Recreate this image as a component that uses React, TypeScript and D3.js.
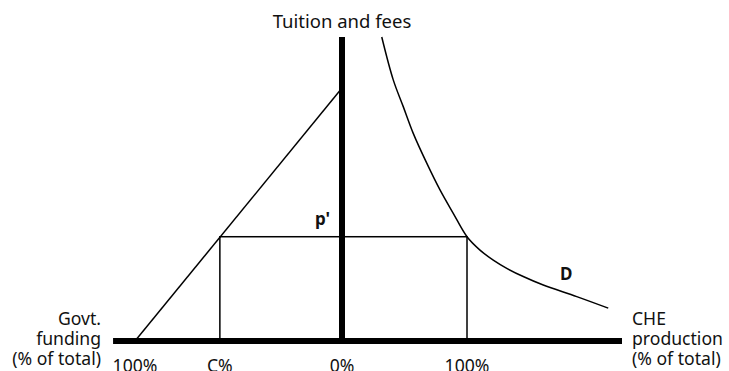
import React from 'react';
import * as d3 from 'd3';

// horizontal: left side is govt funding share, right side is CHE production share
const govtTicks = [
  { label: '100%', value: 100 },
  { label: 'C%', value: 59 },
];
const prodTicks = [
  { label: '0%', value: 0 },
  { label: '100%', value: 100 },
];

const cShare = 59;
const pPrime = 34.3;
const supplyTop = 83.2; // tuition where govt funding = 0

// demand curve D: [production %, tuition]
const demandProd = [31.8, 41.0, 49.0, 57.0, 67.8, 78.4, 89.0, 100, 110.4, 121.0, 131.8, 145.0, 161.0, 187.8, 213.0];
const demandTuition = [100, 85.9, 77.1, 68.3, 58.5, 49.7, 42.0, 34.3, 29.9, 26.6, 23.9, 21.2, 18.4, 14.6, 10.8];

const leftLabel = ['Govt.', 'funding', '(% of total)'];
const rightLabel = ['CHE', 'production', '(% of total)'];

const W = 729;
const H = 371;
const FONT = "'Noto Sans', sans-serif";

export default function App() {
  const originX = 342;
  const xProd = d3.scaleLinear().domain([0, 100]).range([originX, 467]);
  const xGovt = d3.scaleLinear().domain([0, 100]).range([originX, 135]);
  const y = d3.scaleLinear().domain([0, 100]).range([341, 37]);

  const demand = demandProd.map((p, i) => [p, demandTuition[i]] as [number, number]);
  const demandLine = d3.line<[number, number]>()
    .x(d => xProd(d[0]))
    .y(d => y(d[1]))
    .curve(d3.curveCatmullRom);

  const supplyLine = d3.line<[number, number]>()
    .x(d => xGovt(d[0]))
    .y(d => y(d[1]));

  const axisY = y(0);

  return (
    <div style={{ position: 'absolute', left: 0, top: 0 }}>
      <svg width={W} height={H} style={{ display: 'block', background: '#fff' }} fontFamily={FONT}>
        {/* equilibrium box */}
        <rect
          x={xGovt(cShare)}
          y={y(pPrime)}
          width={xProd(100) - xGovt(cShare)}
          height={axisY - y(pPrime)}
          fill="none"
          stroke="#000"
          strokeWidth={1.5}
        />
        {/* supply (govt funding) line */}
        <path d={supplyLine([[100, 0], [0, supplyTop]]) || ''} fill="none" stroke="#000" strokeWidth={1.5} />
        {/* demand curve */}
        <path d={demandLine(demand) || ''} fill="none" stroke="#000" strokeWidth={1.5} />

        {/* axes */}
        <line x1={xGovt(110.6)} x2={xProd(224)} y1={axisY} y2={axisY} stroke="#000" strokeWidth={6} />
        <line x1={originX} x2={originX} y1={axisY} y2={y(100)} stroke="#000" strokeWidth={6} />

        <text x={originX} y={28} textAnchor="middle" fontSize={18.5} fill="#111">Tuition and fees</text>
        <text x={330} y={225} textAnchor="end" fontSize={17} fontWeight="bold" fill="#111">p'</text>
        <text x={560} y={280} fontSize={17} fontWeight="bold" fill="#111">D</text>

        {leftLabel.map((t, i) => (
          <text key={t} x={101} y={325 + i * 20} textAnchor="end" fontSize={17.6} fill="#111">{t}</text>
        ))}
        {rightLabel.map((t, i) => (
          <text key={t} x={632} y={325 + i * 20} fontSize={17.6} fill="#111">{t}</text>
        ))}

        {govtTicks.map(t => (
          <text key={t.label} x={xGovt(t.value)} y={372} textAnchor="middle" fontSize={17.6} fill="#111">{t.label}</text>
        ))}
        {prodTicks.map(t => (
          <text key={'p' + t.label} x={xProd(t.value)} y={372} textAnchor="middle" fontSize={17.6} fill="#111">{t.label}</text>
        ))}
      </svg>
    </div>
  );
}
